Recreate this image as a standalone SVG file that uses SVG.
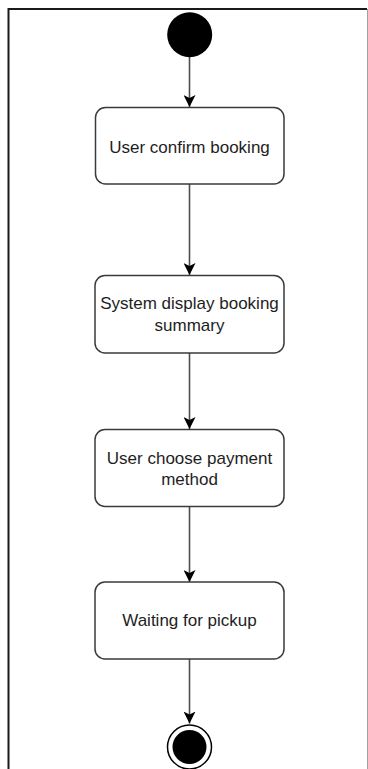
<svg xmlns="http://www.w3.org/2000/svg" width="368" height="769" viewBox="0 0 368 769">
  <defs>
    <style>
      .box { fill: #ffffff; stroke: #3a3a3a; stroke-width: 1.5; }
      .lbl { font-family: "Liberation Sans", Arial, Helvetica, sans-serif; font-size: 17px; fill: #1e1e1e; text-anchor: middle; }
      .edge { stroke: #4d4d4d; stroke-width: 1.6; fill: none; marker-end: url(#arrow); }
    </style>
    <marker id="arrow" viewBox="0 0 12 12" refX="12" refY="6" markerWidth="12" markerHeight="12" markerUnits="userSpaceOnUse" orient="auto">
      <path d="M0,0 L12,6 L0,12 L3,6 Z" fill="#000000"/>
    </marker>
  </defs>
  <rect x="0" y="0" width="368" height="769" fill="#ffffff"/>
  <g id="frame">
    <line x1="8.5" y1="9" x2="367" y2="9" stroke="#1a1a1a" stroke-width="2"/>
    <line x1="8.5" y1="8" x2="8.5" y2="769" stroke="#1a1a1a" stroke-width="2"/>
    <line x1="367.5" y1="9" x2="367.5" y2="769" stroke="#a0a0a0" stroke-width="1"/>
  </g>
  <g id="connectors">
    <line class="edge" x1="189.5" y1="57" x2="189.5" y2="107"/>
    <line class="edge" x1="189.5" y1="184" x2="189.5" y2="275"/>
    <line class="edge" x1="189.5" y1="353" x2="189.5" y2="429"/>
    <line class="edge" x1="189.5" y1="507" x2="189.5" y2="582"/>
    <line class="edge" x1="189.5" y1="659" x2="189.5" y2="723.5"/>
  </g>
  <g id="start">
    <circle cx="189.7" cy="34.7" r="22.5" fill="#000000"/>
  </g>
  <g id="node1">
    <rect class="box" x="95.5" y="107.5" width="188.5" height="76.5" rx="10" ry="10"/>
    <text class="lbl" x="189.5" y="153.3">User confirm booking</text>
  </g>
  <g id="node2">
    <rect class="box" x="95" y="275.5" width="189" height="77.5" rx="10" ry="10"/>
    <text class="lbl" x="189.5" y="309.3">System display booking</text>
    <text class="lbl" x="189.5" y="331">summary</text>
  </g>
  <g id="node3">
    <rect class="box" x="95" y="429.5" width="189" height="77" rx="10" ry="10"/>
    <text class="lbl" x="189.5" y="464">User choose payment</text>
    <text class="lbl" x="189.5" y="485">method</text>
  </g>
  <g id="node4">
    <rect class="box" x="95" y="582" width="189" height="77" rx="10" ry="10"/>
    <text class="lbl" x="189.5" y="625.5">Waiting for pickup</text>
  </g>
  <g id="end">
    <circle cx="189.5" cy="747" r="22" fill="#ffffff" stroke="#000000" stroke-width="1.5"/>
    <circle cx="189.5" cy="747" r="17" fill="#000000"/>
  </g>
</svg>
